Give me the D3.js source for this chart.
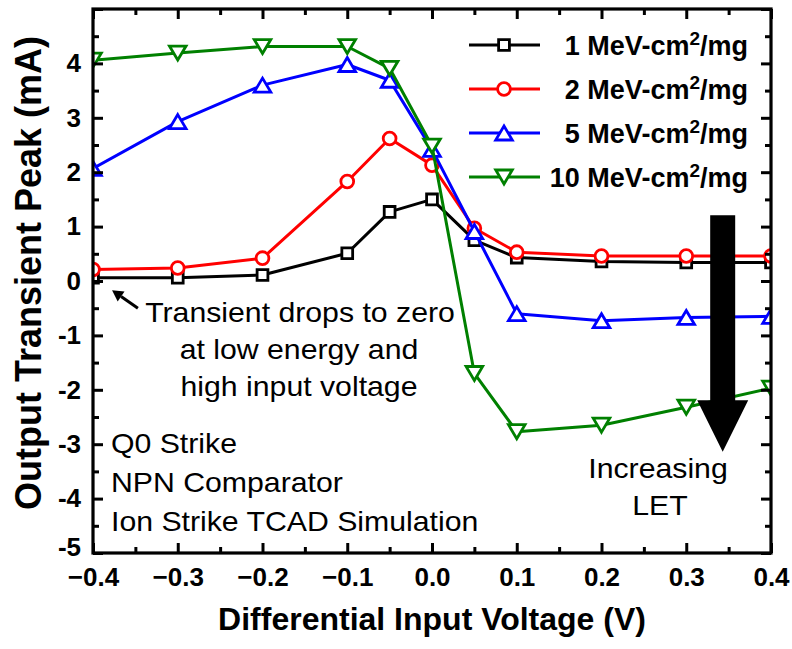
<!DOCTYPE html>
<html>
<head>
<meta charset="utf-8">
<script src="https://cdn.jsdelivr.net/npm/d3@7"></script>
<style>
  html, body { margin: 0; padding: 0; background: #fff; }
  svg { display: block; font-family: "Liberation Sans", Arial, sans-serif; }
</style>
</head>
<body>
<svg id="chart" width="792" height="649"></svg>
<script>
// ---- data ----
const xVals = [-0.4, -0.3, -0.2, -0.1, -0.05, 0.0, 0.05, 0.1, 0.2, 0.3, 0.4];
const let1  = [0.06, 0.06, 0.11, 0.51, 1.27, 1.50, 0.75, 0.43, 0.36, 0.34, 0.34];
const let2  = [0.21, 0.24, 0.42, 1.83, 2.62, 2.13, 0.97, 0.53, 0.46, 0.46, 0.46];
const let5  = [2.07, 2.93, 3.60, 3.98, 3.69, 2.42, 0.91, -0.60, -0.73, -0.67, -0.65];
const let10 = [4.06, 4.19, 4.31, 4.31, 3.91, 2.48, -1.70, -2.77, -2.65, -2.32, -1.97];
const seriesLabels = ["1", "2", "5", "10"];
const xTickVals = [-0.4, -0.3, -0.2, -0.1, 0.0, 0.1, 0.2, 0.3, 0.4];
const xMinorVals = [-0.35, -0.25, -0.15, -0.05, 0.05, 0.15, 0.25, 0.35];
const yTickVals = [-5, -4, -3, -2, -1, 0, 1, 2, 3, 4, 5];
const yTickLabels = ["-5", "-4", "-3", "-2", "-1", "0", "1", "2", "3", "4", ""];
const yMinorVals = [-4.5, -3.5, -2.5, -1.5, -0.5, 0.5, 1.5, 2.5, 3.5, 4.5];
const xTitle = "Differential Input Voltage (V)";
const yTitle = "Output Transient Peak (mA)";

// ---- layout ----
const svg = d3.select("#chart");
const L = 93, R = 771, T = 9, B = 553;
const x = d3.scaleLinear().domain([-0.4, 0.4]).range([L, R]);
const y = d3.scaleLinear().domain([-5, 5]).range([B, T]);

const series = [
  { name: seriesLabels[0], vals: let1,  color: "#000000", shape: "square" },
  { name: seriesLabels[1], vals: let2,  color: "#ff0000", shape: "circle" },
  { name: seriesLabels[2], vals: let5,  color: "#0000ff", shape: "up" },
  { name: seriesLabels[3], vals: let10, color: "#008000", shape: "down" }
];

function markerPath(shape) {
  const p = d3.path();
  if (shape === "square") {
    const s = 5.4; p.rect(-s, -s, 2 * s, 2 * s);
  } else if (shape === "circle") {
    p.arc(0, 0, 6.4, 0, 2 * Math.PI);
  } else if (shape === "up") {
    const w = 8.3, h = 7; p.moveTo(0, -h); p.lineTo(w, h); p.lineTo(-w, h); p.closePath();
  } else {
    const w = 8.3, h = 7; p.moveTo(0, h); p.lineTo(w, -h); p.lineTo(-w, -h); p.closePath();
  }
  return p.toString();
}

svg.append("defs").append("clipPath").attr("id", "plotClip")
  .append("rect").attr("x", L).attr("y", T).attr("width", R - L).attr("height", B - T);

const plot = svg.append("g").attr("clip-path", "url(#plotClip)");
const line = d3.line().x((d, i) => x(xVals[i])).y(d => y(d));

series.forEach(s => {
  const g = plot.append("g");
  g.append("path").attr("d", line(s.vals)).attr("fill", "none")
    .attr("stroke", s.color).attr("stroke-width", 3).attr("stroke-linejoin", "round");
  g.selectAll("path.m").data(s.vals).enter().append("path").attr("class", "m")
    .attr("d", markerPath(s.shape))
    .attr("transform", (d, i) => `translate(${x(xVals[i])},${y(d)})`)
    .attr("fill", "#fff").attr("stroke", s.color).attr("stroke-width", 2.8);
});

// ---- axes ----
function styleAxis(g) {
  g.select(".domain").remove();
  g.selectAll(".tick line").attr("stroke", "#000").attr("stroke-width", 3);
}
const tickFont = g => g.selectAll("text").attr("font-size", 26).attr("font-weight", "bold")
  .attr("fill", "#000").attr("font-family", "Liberation Sans, Arial, sans-serif");

svg.append("g").attr("transform", `translate(0,${B})`)
  .call(d3.axisBottom(x).tickValues(xTickVals).tickFormat(d3.format(".1f")).tickSize(-10).tickPadding(15))
  .call(styleAxis).call(tickFont);
svg.append("g").attr("transform", `translate(0,${B})`)
  .call(d3.axisBottom(x).tickValues(xMinorVals).tickFormat("").tickSize(-6)).call(styleAxis);
svg.append("g").attr("transform", `translate(0,${T})`)
  .call(d3.axisTop(x).tickValues(xTickVals).tickFormat("").tickSize(-10)).call(styleAxis);
svg.append("g").attr("transform", `translate(0,${T})`)
  .call(d3.axisTop(x).tickValues(xMinorVals).tickFormat("").tickSize(-6)).call(styleAxis);

const yAxisG = svg.append("g").attr("transform", `translate(${L},0)`)
  .call(d3.axisLeft(y).tickValues(yTickVals).tickFormat((d, i) => yTickLabels[i]).tickSize(-10).tickPadding(12))
  .call(styleAxis).call(tickFont);
// lift the bottom label a touch so it clears the x tick label below it
yAxisG.selectAll(".tick text").filter(d => d === -5).attr("dy", "0.1em");
svg.append("g").attr("transform", `translate(${L},0)`)
  .call(d3.axisLeft(y).tickValues(yMinorVals).tickFormat("").tickSize(-6)).call(styleAxis);
svg.append("g").attr("transform", `translate(${R},0)`)
  .call(d3.axisRight(y).tickValues(yTickVals).tickFormat("").tickSize(-10)).call(styleAxis);
svg.append("g").attr("transform", `translate(${R},0)`)
  .call(d3.axisRight(y).tickValues(yMinorVals).tickFormat("").tickSize(-6)).call(styleAxis);

svg.append("rect").attr("x", L).attr("y", T).attr("width", R - L).attr("height", B - T)
  .attr("fill", "none").attr("stroke", "#000").attr("stroke-width", 3.2);

// axis titles
svg.append("text").attr("x", (L + R) / 2).attr("y", 630).attr("text-anchor", "middle")
  .attr("font-size", 32).attr("font-weight", "bold").text(xTitle);
svg.append("text").attr("transform", `translate(41,${(T + B) / 2 - 8}) rotate(-90)`)
  .attr("text-anchor", "middle").attr("font-size", 36).attr("font-weight", "bold").text(yTitle);

// ---- legend ----
const legY0 = 45, legDy = 44;
series.forEach((s, i) => {
  const gy = legY0 + i * legDy;
  const g = svg.append("g");
  g.append("line").attr("x1", 469).attr("x2", 540).attr("y1", gy).attr("y2", gy)
    .attr("stroke", s.color).attr("stroke-width", 3);
  g.append("path").attr("d", markerPath(s.shape)).attr("transform", `translate(504,${gy})`)
    .attr("fill", "#fff").attr("stroke", s.color).attr("stroke-width", 2.8);
  const t = g.append("text").attr("x", 748).attr("y", gy + 10).attr("text-anchor", "end")
    .attr("font-size", 27).attr("font-weight", "bold");
  t.append("tspan").text(s.name + " MeV-cm");
  t.append("tspan").attr("dy", -10).attr("font-size", 19).text("2");
  t.append("tspan").attr("dy", 10).text("/mg");
});

// ---- annotations ----
function regText(txt, px, py, anchor) {
  svg.append("text").attr("transform", `translate(${px},${py}) scale(1.08,1)`)
    .attr("text-anchor", anchor).attr("font-size", 28).attr("fill", "#000").text(txt);
}
regText("Transient drops to zero", 300, 322, "middle");
regText("at low energy and", 299, 359, "middle");
regText("high input voltage", 299, 396, "middle");
regText("Q0 Strike", 111, 453, "start");
regText("NPN Comparator", 111, 492, "start");
regText("Ion Strike TCAD Simulation", 111, 531, "start");
regText("Increasing", 658, 478, "middle");
regText("LET", 660, 515, "middle");

// small arrow pointing at the low-energy points
(function () {
  const x1 = x(-0.347), y1 = y(-0.5), x2 = x(-0.3775), y2 = y(-0.17);
  const ang = Math.atan2(y2 - y1, x2 - x1), hl = 11, hw = 6;
  const bx = x2 - hl * Math.cos(ang), by = y2 - hl * Math.sin(ang);
  svg.append("line").attr("x1", x1).attr("y1", y1).attr("x2", bx).attr("y2", by)
    .attr("stroke", "#000").attr("stroke-width", 3);
  svg.append("path").attr("d", `M${x2},${y2}L${bx + hw * Math.sin(ang)},${by - hw * Math.cos(ang)}L${bx - hw * Math.sin(ang)},${by + hw * Math.cos(ang)}Z`)
    .attr("fill", "#000");
})();

// big "Increasing LET" arrow
(function () {
  const cx = x(0.343), top = y(1.21), base = y(-2.19), tip = y(-3.14);
  const sw = 12.5, hw = 25.5;
  svg.append("path")
    .attr("d", `M${cx - sw},${top}L${cx + sw},${top}L${cx + sw},${base}L${cx + hw},${base}L${cx},${tip}L${cx - hw},${base}L${cx - sw},${base}Z`)
    .attr("fill", "#000");
})();
</script>
</body>
</html>
